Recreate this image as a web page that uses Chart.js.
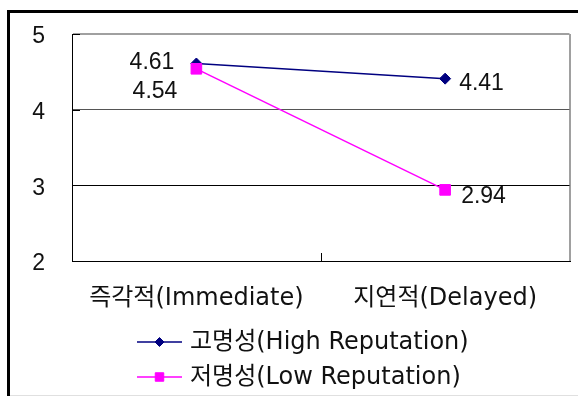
<!DOCTYPE html>
<html>
<head>
<meta charset="utf-8">
<script src="https://cdn.jsdelivr.net/npm/chart.js@4/dist/chart.umd.min.js"></script>
<style>
  html, body { margin: 0; padding: 0; background: #fff; overflow: hidden; }
  #wrap { width: 578px; height: 396px; position: relative; }
</style>
</head>
<body>
<div id="wrap"><canvas id="c" width="578" height="396"></canvas></div>
<script>
// Mean ratings by timing condition
const categories = ['즉각적(Immediate)', '지연적(Delayed)'];
const seriesNames = ['고명성(High Reputation)', '저명성(Low Reputation)'];
const highReputation = [4.61, 4.41];
const lowReputation = [4.54, 2.94];
const yTicks = [2, 3, 4, 5];

const NUM_FONT = '"Liberation Sans", Arial, sans-serif';
const TEXT_FONT = '"DejaVu Sans", "Noto Sans CJK KR", sans-serif';

function drawMarker(ctx, style, x, y, r, color) {
  ctx.save();
  ctx.fillStyle = color;
  ctx.strokeStyle = color;
  ctx.lineWidth = 1;
  ctx.beginPath();
  if (style === 'rectRot') {
    ctx.moveTo(x - r, y); ctx.lineTo(x, y - r); ctx.lineTo(x + r, y); ctx.lineTo(x, y + r);
  } else {
    const s = r * Math.SQRT1_2;
    ctx.rect(x - s, y - s, 2 * s, 2 * s);
  }
  ctx.closePath();
  ctx.fill();
  ctx.stroke();
  ctx.restore();
}

// Outer frame (left and top rules) and the faint bottom rule
const framePlugin = {
  id: 'frame',
  beforeDraw(chart) {
    const ctx = chart.ctx;
    ctx.save();
    ctx.fillStyle = '#fff';
    ctx.fillRect(0, 0, chart.width, chart.height);
    ctx.fillStyle = '#000';
    ctx.fillRect(7, 10, 3, chart.height - 10);
    ctx.fillRect(7, 10, chart.width - 7, 3);
    ctx.fillStyle = '#e0e0e0';
    ctx.fillRect(10, chart.height - 1, chart.width - 10, 1);
    ctx.restore();
  }
};

// Inward tick marks on both axes
const innerTicksPlugin = {
  id: 'innerTicks',
  afterDraw(chart) {
    const ctx = chart.ctx;
    const x = chart.scales.x, y = chart.scales.y;
    const area = chart.chartArea;
    ctx.save();
    ctx.strokeStyle = '#000';
    ctx.lineWidth = 1;
    ctx.beginPath();
    yTicks.forEach(v => {
      const py = Math.round(y.getPixelForValue(v)) + 0.5;
      ctx.moveTo(area.left, py);
      ctx.lineTo(area.left + 8, py);
    });
    for (let i = 1; i < categories.length; i++) {
      const px = Math.round((x.getPixelForValue(i - 1) + x.getPixelForValue(i)) / 2) + 0.5;
      ctx.moveTo(px, area.bottom);
      ctx.lineTo(px, area.bottom - 8);
    }
    ctx.stroke();
    ctx.restore();
  }
};

// Value labels beside each point
const valueLabelPlugin = {
  id: 'valueLabels',
  afterDatasetsDraw(chart, args, opts) {
    const ctx = chart.ctx;
    ctx.save();
    ctx.font = '23px ' + NUM_FONT;
    ctx.fillStyle = '#111';
    ctx.textBaseline = 'middle';
    chart.data.datasets.forEach((ds, di) => {
      const meta = chart.getDatasetMeta(di);
      meta.data.forEach((pt, i) => {
        const [dx, dy, align] = opts.offsets[di][i];
        ctx.textAlign = align;
        ctx.fillText(ds.data[i].toFixed(2), pt.x + dx, pt.y + dy);
      });
    });
    ctx.restore();
  }
};

// Stacked legend under the category axis
const legendPlugin = {
  id: 'stackLegend',
  afterDraw(chart, args, opts) {
    const ctx = chart.ctx;
    ctx.save();
    ctx.font = '24px ' + TEXT_FONT;
    ctx.textBaseline = 'middle';
    ctx.textAlign = 'left';
    chart.data.datasets.forEach((ds, i) => {
      const cy = opts.top + i * opts.rowGap;
      ctx.strokeStyle = ds.borderColor;
      ctx.lineWidth = 1.5;
      ctx.beginPath();
      ctx.moveTo(opts.left, cy);
      ctx.lineTo(opts.left + opts.lineLen, cy);
      ctx.stroke();
      drawMarker(ctx, ds.pointStyle, opts.left + opts.lineLen / 2, cy, ds.legendRadius, ds.borderColor);
      ctx.fillStyle = '#111';
      ctx.fillText(ds.label, opts.left + opts.lineLen + 8, cy + 1);
    });
    ctx.restore();
  }
};

new Chart(document.getElementById('c'), {
  type: 'line',
  data: {
    labels: categories,
    datasets: [
      {
        label: seriesNames[0],
        data: highReputation,
        borderColor: '#000080',
        backgroundColor: '#000080',
        borderWidth: 1.5,
        pointStyle: 'rectRot',
        pointRadius: 5.5,
        pointBorderWidth: 1,
        legendRadius: 4.5,
        order: 1
      },
      {
        label: seriesNames[1],
        data: lowReputation,
        borderColor: '#ff00ff',
        backgroundColor: '#ff00ff',
        borderWidth: 1.5,
        pointStyle: 'rect',
        pointRadius: 7.5,
        pointBorderWidth: 1,
        legendRadius: 6,
        order: 0
      }
    ]
  },
  options: {
    responsive: false,
    animation: false,
    devicePixelRatio: 1,
    events: [],
    layout: { padding: { left: 0, top: 34, right: 7, bottom: 0 } },
    plugins: {
      legend: { display: false },
      tooltip: { enabled: false },
      valueLabels: {
        offsets: [
          [[-22, -1, 'right'], [14, 5, 'left']],
          [[-19, 23, 'right'], [16, 7, 'left']]
        ]
      },
      stackLegend: { left: 137, top: 342, rowGap: 35, lineLen: 45 }
    },
    scales: {
      x: {
        type: 'category',
        offset: true,
        grid: {
          offset: true,
          drawTicks: false,
          lineWidth: 2,
          color: ctx => (ctx.type === 'tick' ? 'rgba(0,0,0,0)' : '#a0a0a0')
        },
        border: { color: '#000', width: 1 },
        ticks: {
          font: { family: TEXT_FONT, size: 24 },
          color: '#111',
          padding: 23,
          maxRotation: 0
        },
        afterFit: s => { s.height = 135; s.paddingLeft = 0; s.paddingRight = 0; }
      },
      y: {
        min: 2,
        max: 5,
        afterBuildTicks: s => { s.ticks = yTicks.map(v => ({ value: v })); },
        grid: {
          drawTicks: false,
          color: ctx => (ctx.tick && ctx.tick.value === 5 ? '#a0a0a0' : (ctx.tick && ctx.tick.value === 4 ? '#555' : '#000')),
          lineWidth: ctx => (ctx.tick && ctx.tick.value === 5 ? 2 : 1)
        },
        border: { color: '#000', width: 1 },
        ticks: {
          font: { family: NUM_FONT, size: 23 },
          color: '#111',
          padding: 27,
          labelOffset: 3
        },
        afterFit: s => { s.width = 72; s.paddingTop = 0; s.paddingBottom = 0; }
      }
    }
  },
  plugins: [framePlugin, innerTicksPlugin, valueLabelPlugin, legendPlugin]
});
</script>
</body>
</html>
